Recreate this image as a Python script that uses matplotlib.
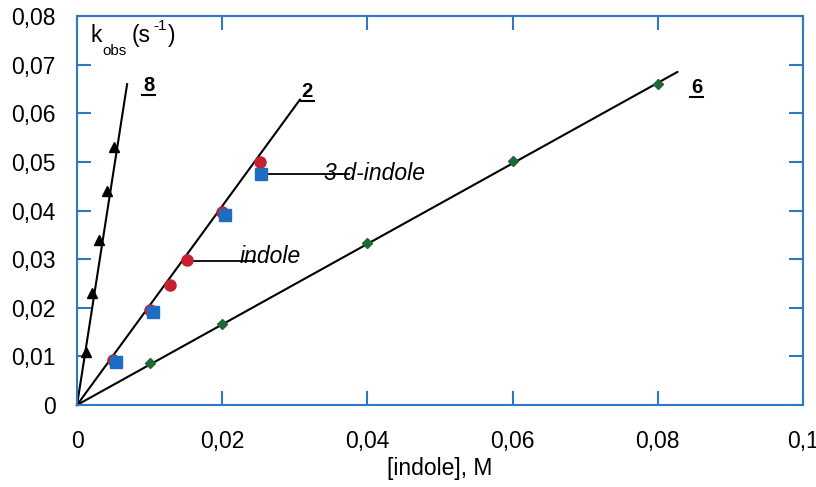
import matplotlib

matplotlib.use("Agg")
import matplotlib.pyplot as plt
import numpy as np

plt.rcParams["font.family"] = ["Liberation Sans", "DejaVu Sans"]

# 数据：估计值
x_8 = [0.0012, 0.002, 0.003, 0.0041, 0.0051]
y_8 = [0.0109, 0.023, 0.034, 0.044, 0.053]
fit_8 = [0.0, 0.0069], [0.0, 0.066]

x_indole = [0.005, 0.01, 0.0128, 0.0151, 0.02, 0.0252]
y_indole = [0.0093, 0.0195, 0.0247, 0.0298, 0.0398, 0.050]
x_d_indole = [0.0054, 0.0105, 0.0204, 0.0253]
y_d_indole = [0.0089, 0.0191, 0.039, 0.0475]
fit_2 = [0.0, 0.0307], [0.0, 0.0628]

x_6 = [0.01, 0.02, 0.04, 0.06, 0.08]
y_6 = [0.0086, 0.0167, 0.0333, 0.0502, 0.066]
fit_6 = [0.0, 0.0827], [0.0, 0.0685]

x_ticks = [0, 0.02, 0.04, 0.06, 0.08, 0.1]
x_tick_labels = ["0", "0,02", "0,04", "0,06", "0,08", "0,1"]
y_ticks = [0, 0.01, 0.02, 0.03, 0.04, 0.05, 0.06, 0.07, 0.08]
y_tick_labels = ["0", "0,01", "0,02", "0,03", "0,04", "0,05", "0,06", "0,07", "0,08"]

AXIS_BLUE = "#2f78c4"
FS = 16.5

fig = plt.figure(figsize=(8.16, 4.87), dpi=100)
ax = fig.add_axes([0.0944, 0.1684, 0.8896, 0.7986])

for xs, ys in (fit_8, fit_2, fit_6):
    ax.plot(xs, ys, color="black", linewidth=1.5, clip_on=False, zorder=2)

ax.plot(x_8, y_8, linestyle="none", marker="^", color="black", markersize=7, zorder=3)
ax.plot(x_indole, y_indole, linestyle="none", marker="o", color="#c8202e", markersize=8, zorder=3)
ax.plot(x_d_indole, y_d_indole, linestyle="none", marker="s", color="#1f6cc4", markersize=9, zorder=4)
ax.plot(x_6, y_6, linestyle="none", marker="D", color="#1e6a34", markersize=5, zorder=3)

# 引线与标注
ax.plot([0.0253, 0.0375], [0.0475, 0.0475], color="black", linewidth=1.3, zorder=2)
ax.plot([0.0151, 0.0245], [0.0297, 0.0297], color="black", linewidth=1.3, zorder=2)
ax.text(0.0340, 0.0476, "3-d-indole", style="italic", fontsize=FS, va="center", ha="left")
ax.text(0.0224, 0.0306, "indole", style="italic", fontsize=FS, va="center", ha="left")

for x, y, s in ((0.00985, 0.0646, "8"), (0.0317, 0.0634, "2"), (0.0854, 0.0642, "6")):
    ax.text(x, y, s, fontsize=14.5, fontweight="bold", ha="center", va="baseline")
    ax.plot([x - 0.0009, x + 0.0009], [y - 0.0008, y - 0.0008], color="black", linewidth=1.5)

# 纵轴标题 k_obs (s^-1)，放在坐标框内左上角
fig.text(90 / 816, 1 - 42 / 487, "k", fontsize=FS, ha="left", va="baseline")
fig.text(102 / 816, 1 - 55 / 487, "obs", fontsize=11, ha="left", va="baseline")
fig.text(132 / 816, 1 - 42 / 487, "(s", fontsize=FS, ha="left", va="baseline")
fig.text(153 / 816, 1 - 30 / 487, "-1", fontsize=11, ha="left", va="baseline")
fig.text(168 / 816, 1 - 42 / 487, ")", fontsize=FS, ha="left", va="baseline")

ax.set_xlim(0, 0.1)
ax.set_ylim(0, 0.08)
ax.set_xticks(x_ticks)
ax.set_xticklabels(x_tick_labels)
ax.set_yticks(y_ticks)
ax.set_yticklabels(y_tick_labels)
ax.tick_params(direction="in", length=10, width=1.5, color=AXIS_BLUE, labelsize=FS,
               top=True, right=True)
ax.tick_params(axis="x", pad=18)
ax.tick_params(axis="y", pad=15.5)
for spine in ax.spines.values():
    spine.set_color(AXIS_BLUE)
    spine.set_linewidth(1.5)

ax.set_xlabel("[indole], M", fontsize=FS, labelpad=3)

fig.savefig("out.png", dpi=100)
